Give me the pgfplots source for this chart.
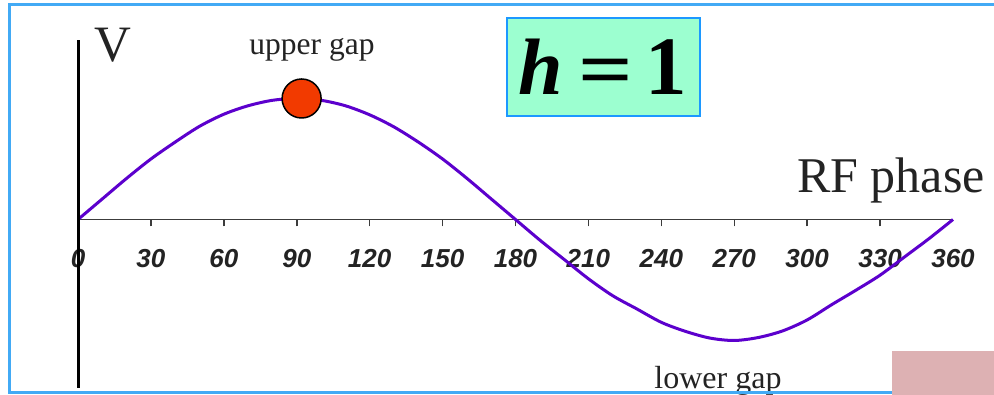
\documentclass[border=0pt]{standalone}
\usepackage{pgfplots}
\usepackage{pgfplotstable}
\pgfplotsset{compat=1.18}
\usepackage{fontspec}
\setmainfont{Liberation Serif}
\newfontfamily\ticksans{Liberation Sans}

\definecolor{wavepurple}{RGB}{92,0,205}
\definecolor{dotred}{RGB}{242,58,0}
\definecolor{framecol}{RGB}{66,170,245}
\definecolor{boxblue}{RGB}{28,152,255}
\definecolor{mint}{RGB}{156,255,208}
\definecolor{patchpink}{RGB}{221,177,179}
\definecolor{axisgray}{RGB}{60,60,60}
\definecolor{inkgray}{RGB}{35,35,35}

% gap voltage over one RF period
\pgfplotstableread{
phase V
0    0
10   0.17
20   0.34
30   0.50
40   0.64
50   0.77
60   0.87
70   0.94
80   0.985
90   1.00
100  0.985
110  0.94
120  0.865
130  0.765
140  0.64
150  0.50
160  0.34
170  0.17
180  0
190  -0.17
200  -0.33
210  -0.49
220  -0.63
230  -0.74
240  -0.85
250  -0.925
260  -0.98
270  -1.00
280  -0.975
290  -0.92
300  -0.83
310  -0.705
320  -0.585
330  -0.46
340  -0.31
350  -0.16
360  0
}\wavetable

\begin{document}
\begin{tikzpicture}[x=1pt,y=1pt]
\useasboundingbox (0,0) rectangle (994,395);
\fill[white] (0,0) rectangle (994,395);
\begin{scope}
\clip (0,0) rectangle (994,395);

\begin{axis}[
  at={(78pt,175.5pt)}, anchor=origin,
  x=2.4306pt, y=121pt,
  xmin=0, xmax=360, ymin=-1.392, ymax=1.483,
  axis lines=middle,
  axis line style={-},
  x axis line style={draw=axisgray, line width=1.8pt},
  y axis line style={draw=none},
  xtick={30,60,...,330},
  extra x ticks={0,360},
  extra x tick style={major tick style={draw=none}},
  ytick=\empty,
  tick align=outside,
  major tick length=7pt,
  every tick/.style={axisgray, line width=1.5pt},
  /pgf/number format/assume math mode=true,
  xticklabel style={font=\ticksans\fontsize{26}{26}\selectfont\bfseries\itshape, text=inkgray, inner sep=0pt, yshift=-23pt},
  clip=false,
]
\addplot[wavepurple, line width=3pt, smooth] table[x=phase, y=V] {\wavetable};
\addplot[only marks, mark=*, mark size=19.5pt,
  mark options={fill=dotred, draw=black, line width=1.5pt}] coordinates {(92,1)};
\coordinate (ytop) at (axis cs:0,1.483);
\coordinate (ybot) at (axis cs:0,-1.392);
\end{axis}
\draw[black, line width=3pt] (ytop) -- (ybot);

% labels
\node[anchor=base, text=inkgray, inner sep=0pt] at (113,333) {\fontsize{51}{51}\selectfont V};
\node[anchor=base, text=inkgray, inner sep=0pt] at (312,340) {\fontsize{31.5}{31.5}\selectfont upper gap};
\node[anchor=base, text=inkgray, inner sep=0pt] at (891,202) {\fontsize{50}{50}\selectfont RF phase};
\node[anchor=base, text=inkgray, inner sep=0pt] at (718,6) {\fontsize{32}{32}\selectfont lower gap};

% harmonic number box
\draw[boxblue, line width=2.5pt, fill=mint] (507,279) rectangle (700,377);
\node[anchor=base, inner sep=0pt] at (541,300) {\fontsize{80}{80}\selectfont\bfseries\itshape h};
\node[anchor=base, inner sep=0pt] at (605.5,298) {\fontsize{80}{80}\selectfont\bfseries\scalebox{1.2}[1]{=}};
\node[anchor=base, inner sep=0pt] at (666,300) {\fontsize{83}{83}\selectfont\bfseries 1};

% outer frame and corner patch
\draw[framecol, line width=3pt] (9.7,2.5) rectangle (1010,390.5);
\fill[patchpink] (892,0) rectangle (994,44);
\end{scope}
\end{tikzpicture}
\end{document}
